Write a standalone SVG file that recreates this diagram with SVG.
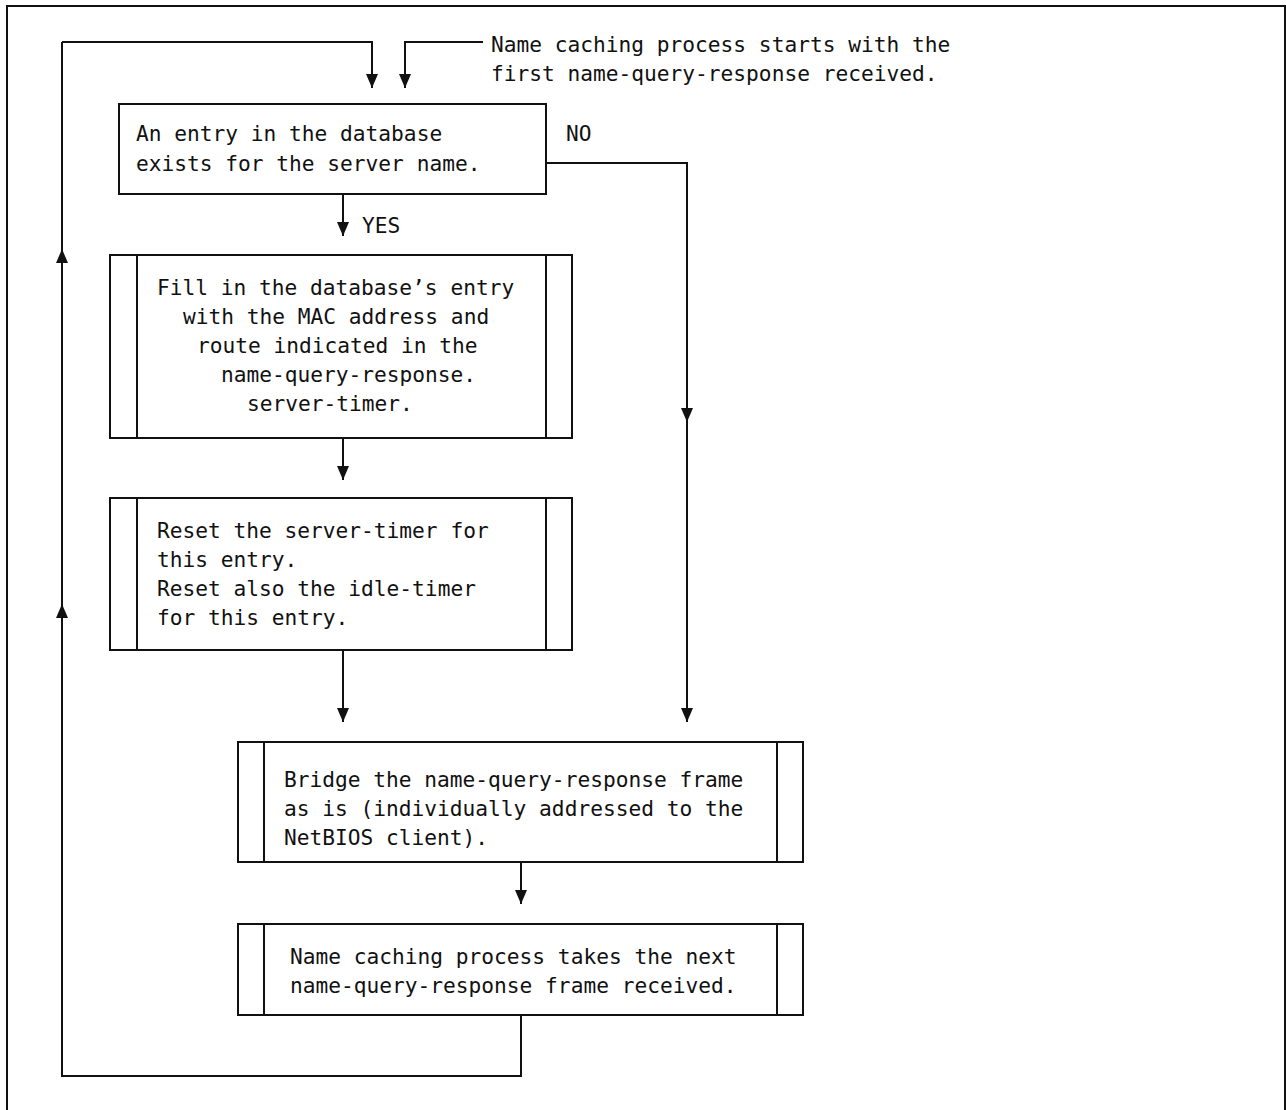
<svg xmlns="http://www.w3.org/2000/svg" width="1286" height="1110" viewBox="0 0 1286 1110">
<style>
.ln{fill:none;stroke:#111;stroke-width:2}
.bx{fill:#fff;stroke:#111;stroke-width:2}
.t{font-family:"DejaVu Sans Mono","Liberation Mono",monospace;font-size:21.2px;fill:#111}
</style>
<defs>
<marker id="ah" viewBox="0 0 14 12" refX="14" refY="6" markerWidth="14" markerHeight="12" markerUnits="userSpaceOnUse" orient="auto">
<path d="M0,0 L14,6 L0,12 Z" fill="#111"/>
</marker>
</defs>
<rect x="0" y="0" width="1286" height="1110" fill="#fff"/>
<path class="ln" d="M7,1112 V6 H1285 V1112"/>
<g id="connectors">
<path class="ln" d="M62,42 H372 V88" marker-end="url(#ah)"/>
<path class="ln" d="M483,42 H405 V88" marker-end="url(#ah)"/>
<path class="ln" d="M343,194 V236" marker-end="url(#ah)"/>
<path class="ln" d="M546,163 H687 V422" marker-end="url(#ah)"/>
<path class="ln" d="M687,418 V722" marker-end="url(#ah)"/>
<path class="ln" d="M343,438 V480" marker-end="url(#ah)"/>
<path class="ln" d="M343,650 V722" marker-end="url(#ah)"/>
<path class="ln" d="M521,862 V904" marker-end="url(#ah)"/>
<path class="ln" d="M521,1015 V1076 H62 V42"/>
<path class="ln" d="M62,620 V604" marker-end="url(#ah)"/>
<path class="ln" d="M62,265 V249" marker-end="url(#ah)"/>
<text class="t" x="362" y="233">YES</text>
<text class="t" x="566" y="141">NO</text>
</g>
<g id="start-note">
<text class="t" x="491" y="52">Name caching process starts with the</text>
<text class="t" x="491" y="81">first name-query-response received.</text>
</g>
<g id="decision">
<rect class="bx" x="119" y="104" width="427" height="90"/>
<text class="t" x="136" y="141">An entry in the database</text>
<text class="t" x="136" y="171">exists for the server name.</text>
</g>
<g id="fill-entry">
<rect class="bx" x="110" y="255" width="462" height="183"/>
<path class="ln" d="M137,255 V438 M546,255 V438"/>
<text class="t" x="157" y="295">Fill in the database’s entry</text>
<text class="t" x="183" y="324">with the MAC address and</text>
<text class="t" x="197" y="353">route indicated in the</text>
<text class="t" x="221" y="382">name-query-response.</text>
<text class="t" x="247" y="411">server-timer.</text>
</g>
<g id="reset-timers">
<rect class="bx" x="110" y="498" width="462" height="152"/>
<path class="ln" d="M137,498 V650 M546,498 V650"/>
<text class="t" x="157" y="538">Reset the server-timer for</text>
<text class="t" x="157" y="567">this entry.</text>
<text class="t" x="157" y="596">Reset also the idle-timer</text>
<text class="t" x="157" y="625">for this entry.</text>
</g>
<g id="bridge">
<rect class="bx" x="238" y="742" width="565" height="120"/>
<path class="ln" d="M264,742 V862 M777,742 V862"/>
<text class="t" x="284" y="787">Bridge the name-query-response frame</text>
<text class="t" x="284" y="816">as is (individually addressed to the</text>
<text class="t" x="284" y="845">NetBIOS client).</text>
</g>
<g id="next-frame">
<rect class="bx" x="238" y="924" width="565" height="91"/>
<path class="ln" d="M264,924 V1015 M777,924 V1015"/>
<text class="t" x="290" y="964">Name caching process takes the next</text>
<text class="t" x="290" y="993">name-query-response frame received.</text>
</g>
</svg>
